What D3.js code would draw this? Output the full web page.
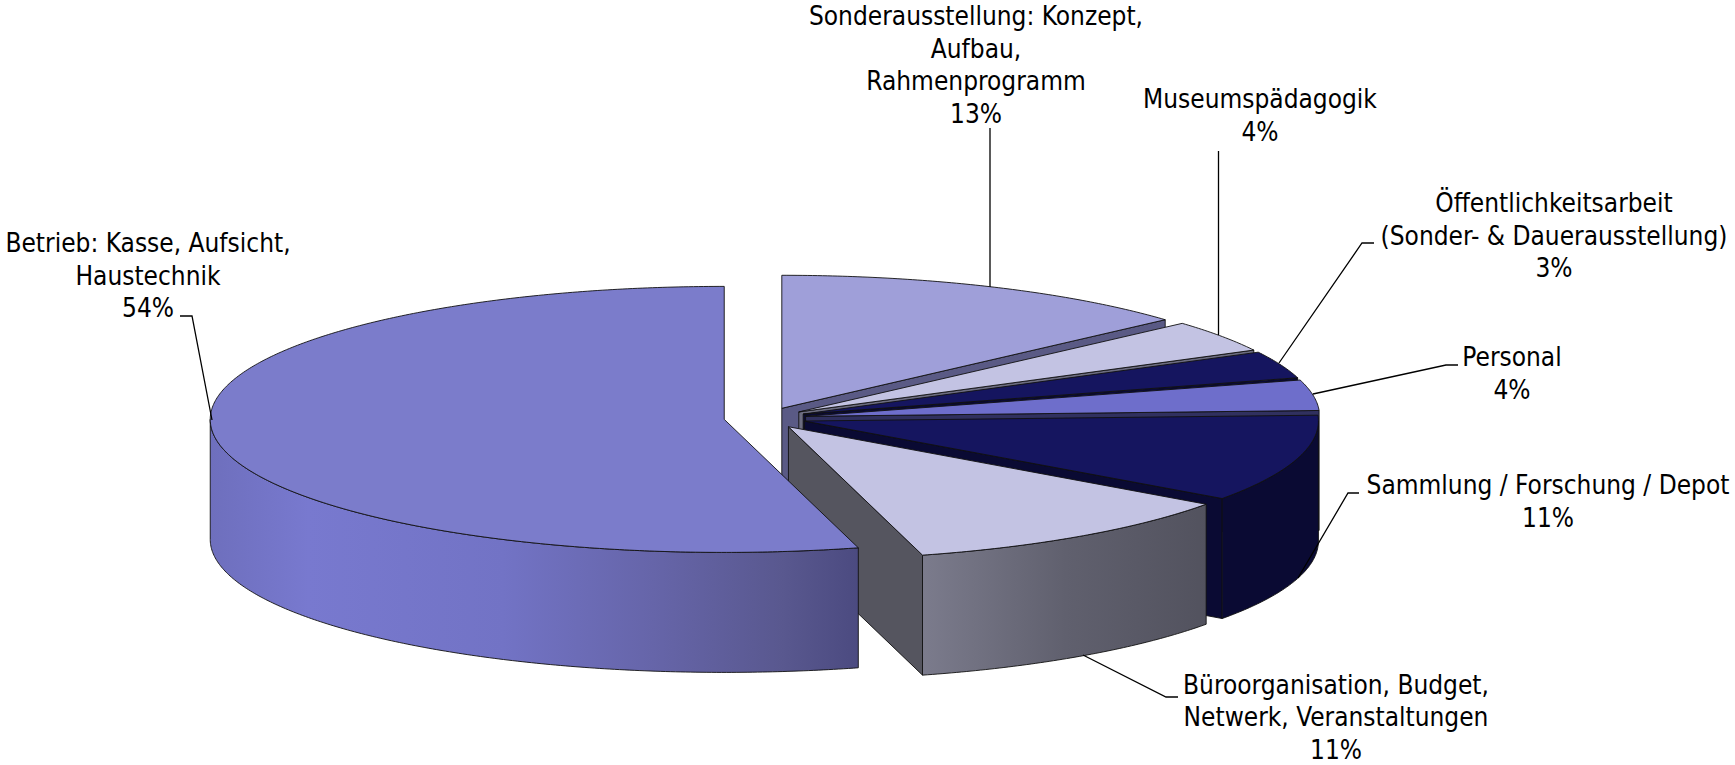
<!DOCTYPE html>
<html>
<head>
<meta charset="utf-8">
<script src="https://cdn.jsdelivr.net/npm/d3@7"></script>
<style>
html, body { margin: 0; padding: 0; background: #fff; overflow: hidden; }
text { font-family: "DejaVu Sans", sans-serif; font-stretch: condensed; font-size: 26px; fill: #000; text-anchor: middle; }
</style>
</head>
<body>
<svg id="chart" width="1735" height="765"></svg>
<script>
// shares, labels show them rounded
var categories = [
	['Sonderausstellung: Konzept,', 'Aufbau,', 'Rahmenprogramm'],
	['Museumspädagogik'],
	['Öffentlichkeitsarbeit', '(Sonder- & Dauerausstellung)'],
	['Personal'],
	['Sammlung / Forschung / Depot'],
	['Büroorganisation, Budget,', 'Netwerk, Veranstaltungen'],
	['Betrieb: Kasse, Aufsicht,', 'Haustechnik']
];
var shares = [13.4, 3.9, 3.3, 3.7, 10.6, 10.9, 54.2];

// look of the slices, same order as above
var topFills = ['#9f9fd9', '#c3c3e3', '#15155f', '#6e6ecb', '#15155f', '#c3c3e3', '#7b7ccb'];
var sideFills = ['#5a5a85', '#6c6c80', '#0a0a33', '#30305f', '#0a0a33', '#55555f', '#5a5a90'];
var wallFills = ['#5a5a85', '#6c6c80', '#0a0a33', '#30305f', '#0a0a33', 'url(#wallOffice)', 'url(#wallMain)'];

// label centre x and first baseline, then the leader line
var labelAnchors = [[976, 25], [1260, 108], [1554, 212], [1512, 366], [1548, 494], [1336, 693.5], [148, 252]];
var leaders = [
	[[990, 128], [990, 287]],
	[[1218.5, 151], [1218.5, 335]],
	[[1374, 243], [1362, 243], [1279, 363]],
	[[1458, 365], [1446, 365], [1313, 394]],
	[[1359, 493], [1348, 493], [1298, 578]],
	[[1178, 697], [1166, 697], [1083, 655]],
	[[180, 316], [192, 316], [212, 420]]
];

var width = 1735, height = 765;
var centerX = 765, centerY = 418;
var radiusX = 514, radiusY = 133, depth = 120, lineStep = 32.5, explode = 0.08;

var svg = d3.select('#chart');
var defs = svg.append('defs');

function addGradient(id, x1, x2, stops) {
	var g = defs.append('linearGradient').attr('id', id)
		.attr('gradientUnits', 'userSpaceOnUse')
		.attr('x1', x1).attr('x2', x2).attr('y1', 0).attr('y2', 0);
	stops.forEach(function(s) {
		g.append('stop').attr('offset', s[0]).attr('stop-color', s[1]);
	});
}
addGradient('wallMain', 211, 860, [[0, '#6e6fbd'], [0.15, '#7879cf'], [0.45, '#7273c5'], [0.68, '#6665a9'], [0.88, '#59588f'], [1, '#4b4a80']]);
addGradient('wallOffice', 924, 1208, [[0, '#7b7b8c'], [0.5, '#60606e'], [1, '#52525e']]);

var x = d3.scaleLinear().domain([-1, 1]).range([-radiusX, radiusX]);
var y = d3.scaleLinear().domain([-1, 1]).range([radiusY, -radiusY]);
var arcs = d3.pie().sort(null).startAngle(0).endAngle(2 * Math.PI)(shares);
var line = d3.line();

function rim(c, a) {
	return [c[0] + x(Math.sin(a)), c[1] + y(Math.cos(a))];
}

function sweep(c, a0, a1) {
	var n = Math.max(2, Math.ceil((a1 - a0) / 0.01));
	return d3.range(n + 1).map(function(i) {
		return rim(c, a0 + (a1 - a0) * i / n);
	});
}

function drop(p) {
	return [p[0], p[1] + depth];
}

function addShape(points, fill) {
	svg.append('path')
		.attr('d', line(points) + 'Z')
		.attr('fill', fill)
		.attr('stroke', '#111')
		.attr('stroke-width', 0.9)
		.attr('stroke-linejoin', 'round');
}

arcs.forEach(function(d, i) {
	var mid = (d.startAngle + d.endAngle) / 2;
	var c = [centerX + x(Math.sin(mid) * explode), centerY + y(Math.cos(mid) * explode)];
	var a0 = d.startAngle, a1 = d.endAngle;

	if (Math.sin(a1) > 0.01) {
		addShape([c, rim(c, a1), drop(rim(c, a1)), drop(c)], sideFills[i]);
	}

	var f0 = Math.max(a0, Math.PI / 2), f1 = Math.min(a1, 3 * Math.PI / 2);
	if (f1 > f0) {
		var outer = sweep(c, f0, f1);
		addShape(outer.concat(outer.map(drop).reverse()), wallFills[i]);
	}

	addShape([c].concat(sweep(c, a0, a1)), topFills[i]);
});

leaders.forEach(function(pts) {
	svg.append('path')
		.attr('d', line(pts))
		.attr('fill', 'none')
		.attr('stroke', '#000')
		.attr('stroke-width', 1.3);
});

categories.forEach(function(lines, i) {
	var rows = lines.concat(d3.format('.0f')(shares[i]) + '%');
	var label = svg.append('text');
	rows.forEach(function(r, k) {
		label.append('tspan')
			.attr('x', labelAnchors[i][0])
			.attr('y', labelAnchors[i][1] + k * lineStep)
			.text(r);
	});
});
</script>
</body>
</html>
